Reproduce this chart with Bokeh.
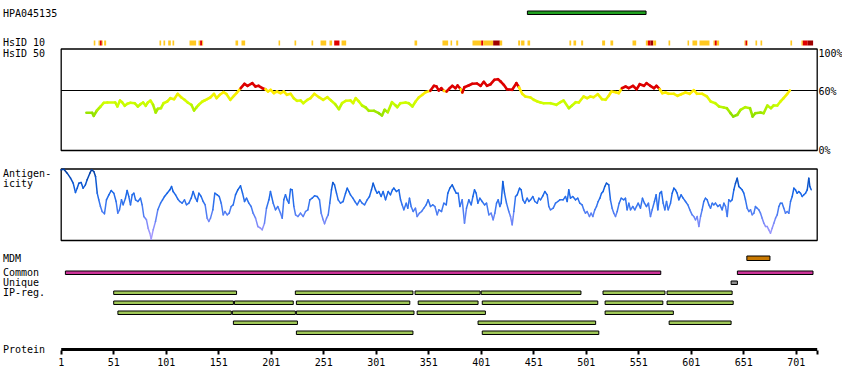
from bokeh.plotting import figure
from bokeh.models import Range1d, FixedTicker, Label
from bokeh.embed import file_html
from bokeh.resources import INLINE

# ---------------- data ----------------
protein_length = 721
tick_positions = [1, 51, 101, 151, 201, 251, 301, 351, 401, 451, 501, 551, 601, 651, 701, 721]
tick_labels = ["1", "51", "101", "151", "201", "251", "301", "351", "401", "451", "501",
               "551", "601", "651", "701", ""]

hpa_start, hpa_end = [445], [558]
mdm_start, mdm_end = [654], [676]
common_start, common_end = [5, 645], [572, 717]
unique_start, unique_end = [639], [645]

ip_row1_start = [51, 224, 338, 401, 517, 578]
ip_row1_end = [168, 336, 400, 496, 576, 640]
ip_row2_start = [51, 166, 225, 341, 402, 519, 578]
ip_row2_end = [165, 222, 333, 398, 512, 574, 641]
ip_row3_start = [55, 164, 225, 340, 519]
ip_row3_end = [163, 224, 337, 405, 584]
ip_row4_start = [165, 398, 580]
ip_row4_end = [226, 510, 639]
ip_row5_start = [225, 402]
ip_row5_end = [336, 513]

hsid10_start = [32, 36.5, 37.8, 39.7, 41.9, 94.6, 98.4, 102.9, 107, 123.2, 131.8, 133.3, 135.3,
                167, 172.7, 208, 223.2, 239.4, 248, 256.5, 261, 268, 337.5, 364.1, 371.8, 377.2,
                392.7, 401, 402.9, 412.4, 418.7, 436.2, 439, 445.1, 485, 488.9, 496.2, 516.2,
                524.1, 545.1, 557.8, 559.7, 562.2, 564.8, 579.4, 597.5, 602.2, 608.9, 622.2,
                623.5, 625.4, 651.7, 652.7, 654.3, 662.2, 667, 695.5, 706, 707.3, 712]
hsid10_end = [33.5, 37.8, 39.7, 40.6, 43.8, 96.2, 100, 105.4, 108.6, 129.5, 133.3, 135.3, 136.2,
              169.5, 176.2, 209.5, 224.8, 241, 253.4, 259, 266, 272.4, 340, 369.5, 373.3, 379.1,
              401, 402.9, 412.4, 418.7, 421, 438.1, 442.2, 447.6, 486.7, 491.4, 498.1, 519,
              526.7, 548.6, 559.7, 562.2, 564.8, 567.6, 581, 599, 606.7, 618.4, 623.5,
              625.4, 627.6, 652.7, 654.3, 654.9, 663.8, 668.6, 697.1, 707.3, 712, 717.1]
hsid10_level = [1, 1, 2, 1, 1, 1, 1, 1, 1, 1, 1, 2, 1,
                1, 1, 1, 1, 1, 1, 1, 2, 1, 1, 1, 1, 1,
                1, 2, 1, 3, 1, 1, 1, 1, 1, 1, 1, 1,
                1, 1, 1, 2, 3, 1, 1, 1, 1, 1, 1,
                2, 1, 1, 2, 1, 1, 1, 1, 1, 2, 3]

hsid50_res = [25, 30.5, 32, 35, 38.5, 41.5, 45, 52.5, 54.5, 57, 59, 61.5, 64, 67, 71, 74, 76.5,
              79, 81.5, 83.5, 86, 88.5, 91, 93, 96, 98.5, 102, 105, 108.5, 112, 115.5, 118.5,
              121.5, 125, 127.5, 130, 132, 135.5, 137.5, 140, 143, 146.5, 149, 152, 155.5,
              158.5, 162, 165.5, 168.5, 172, 175.5, 178.5, 183, 186, 189, 192.5, 195.5, 198,
              200.5, 203.5, 206.5, 210, 213, 216, 219.5, 222.5, 225.5, 229, 231.5, 235.5, 238.5,
              242, 246.5, 250.5, 254.5, 258, 262, 265.5, 268.5, 272, 276.5, 279, 281.5, 284.5,
              287.5, 291, 294, 299, 303.5, 306.5, 309, 312, 316, 319.5, 321, 324, 329, 332,
              335.5, 338.5, 341.5, 345, 348, 352.5, 356, 358.5, 360.5, 363, 365.5, 368, 371,
              373.5, 376.5, 378.5, 381.5, 383, 385, 389, 392.5, 397, 400.5, 403.5, 406.5, 410,
              413.5, 417, 419.5, 422.5, 425.5, 430.5, 434.5, 437, 440, 443, 448, 451, 454.5,
              457.5, 460.5, 467, 472.5,
              476.5, 479.5, 484.5, 487.5, 491, 494, 498.5, 502, 505, 508, 512, 516, 519.5,
              522.5, 525, 529, 532, 535, 538.5, 541.5, 545.5, 549, 552, 556, 558.5, 562, 565.5,
              568, 571, 573.5, 576.5, 579.5, 584.5, 588, 591.5, 595.5, 599.5, 603.5, 606.5,
              611.5, 616, 619.5, 624, 627.5, 632, 635, 638.5, 641, 645, 648, 652.5, 657, 659.5,
              662, 667, 670, 673.5, 677, 679.5, 683, 686, 689, 692.5, 695]
hsid50_pct = [37.7, 37.7, 34.7, 40, 44, 47.7, 48, 48, 44, 50, 48.3, 44.7, 46.7, 47.7, 47.3, 44, 46.3,
              48, 44.7, 48, 50, 45.7, 38, 41.7, 42.3, 47.3, 49, 52.3, 51.3, 56.7, 53, 50.7,
              48, 45.7, 40, 43.3, 45.7, 49, 50, 51.3, 53, 56.7, 52.3, 55.7, 58.3,
              56.3, 50.7, 54.7, 58, 62.3, 66.7, 64.7, 67.3, 64, 64.7, 62.3, 61.3, 59,
              60.7, 57.3, 59, 57.3, 59, 55.7, 56.7, 52.3, 49.7, 50, 47.3, 50.7, 52.3,
              56.7, 53.3, 50.7, 53.3, 50, 46.3, 41.3, 47.3, 49.7, 50, 47.3, 52.3, 49,
              45, 43, 39.7, 39.7, 37.3, 35, 40.7, 38.3, 48.3, 45, 43.3, 47.3, 48, 47.3,
              44, 49, 53, 55.7, 58.3, 59.7, 64.7, 64, 60, 62.3, 59.7, 59, 62.3,
              64.7, 62.3, 65, 61.3, 58, 63.3, 65, 66.7, 67, 64.7, 68.7, 64.7, 66.3,
              70.7, 71.3, 69, 65.7, 61.3, 60.7, 67.3, 63.3, 56.7, 54, 53, 50.7, 49,
              48, 47.3, 47.3, 45.7,
              48.3, 50, 42.3, 45, 48.3, 48, 54, 52.3, 54, 53.3, 56.3, 51.3, 50.7,
              54.7, 59, 58.3, 57.3, 62.3, 64, 62.3, 64.7, 61.3, 66.3, 64.7, 67.3, 64.7, 62.3,
              64.7, 61.3, 57.3, 58, 56.7, 56.7, 54.7, 56.3, 58, 56.7, 60.3, 56.7,
              56.7, 54, 49, 47.3, 44, 43, 42.3, 37.3, 34, 35.7, 40.7, 43.3, 42.3, 34,
              37.3, 38, 37.3, 45, 42.3, 45, 45, 49, 52.3, 56.7, 60]

antigen_res = [1, 3.5, 6.7, 9.9, 12.4, 14.6, 16.2, 17.8, 20, 21.9, 24.1, 25.7, 28.3, 29.9, 32.1,
               33.7, 35.3, 36.8, 38.4, 40, 42.2, 44.1, 46.4, 48.6, 51.1, 53.3, 54.9, 56.5, 58.4,
               60, 62.2, 63.8, 65.4, 67, 68.6, 70.2, 71.8, 74, 76.5, 78.1, 79.7, 82.2, 83.8,
               85.4, 86.7, 88.6, 90.8, 93, 95.6, 97.5, 99.4, 101.9, 104.5, 106.1, 107.6, 109.9,
               112.1, 114, 116.2, 118.4, 120.3, 122.6, 124.8, 126.7, 128.9, 130.5, 132.1, 134.3,
               136.2, 138.1, 140, 141.6, 143.2, 145.4, 147.3, 149.6, 151.5, 153.4, 155.3, 156.9,
               159.1, 161, 162.9, 164.8, 167, 169.2, 171.8, 173.7, 175.6, 177.5, 179.7, 181.9,
               183.8, 186.1, 188.3, 190.8, 192.4, 194.6, 196.5, 198.8, 200.3, 202.9, 205.1,
               207.3, 209.9, 211.5, 213, 214.6, 216.2, 217.8, 219.4, 221, 222.6, 224.2, 226.4,
               228.9, 231.5, 233.7, 235.9, 237.8, 240, 242.3,
               244.8, 247, 248.6, 250.5, 251.8, 253.7, 255.3, 256.8, 258.4, 259.7, 261.3, 263.2,
               264.8, 267, 269.5, 271.8, 273.4, 275, 276.5, 278.8, 280.7, 282.9, 285.4, 287.6,
               289.9, 292.4, 294.6, 296.5, 298.1, 300.3, 301.9, 303.5, 305.7, 307.6, 309.9,
               312.4, 314.6, 316.5, 317.8, 320.3, 322.6, 324.2, 325.7, 327.3, 329.6, 331.1,
               332.7, 334.3, 336.2, 338.4, 340, 342.2, 344.2, 346.4, 348.6, 350.5, 352.7, 354.9,
               356.9, 359.1, 360.7, 363.2, 365.4, 367.7, 369.2, 371.1, 373.4, 375.6, 377.2,
               379.1, 380.7, 382.9, 385.1, 387, 389.2, 391.5, 393.1, 394.6, 396.2, 397.8, 399.7,
               401.9, 404.2, 406.1, 408.3, 410.5, 412.4, 414, 415.6, 417.2, 418.8, 420, 421.6,
               423.2, 425.1, 427.3, 428.9, 430.5, 432.1, 433.7, 435.3, 437.5, 439.1, 440.7,
               442.6, 444.8, 446.4, 448, 450.2, 452.1, 454.3, 455.9, 457.5, 459.7, 461.6, 463.9,
               465.4, 467, 469.6, 471.8, 474, 475.9,
               479, 481.3, 482.9, 484.4, 486, 488.2, 490.8, 493, 494.9, 497.1, 498.7, 500.3,
               501.9, 504.1, 505.7, 507.3, 509.2, 510.8, 512.4, 514, 515.6, 517.1, 518.7, 520.3,
               522.5, 524.1, 525.7, 527.3, 528.9, 530.5, 532.4, 534.3, 536.8, 538.4, 540, 541.6,
               543.2, 545.4, 547.3, 548.9, 550.5, 552.7, 554.6, 556.5, 558.4, 560.3, 562.2,
               563.8, 566, 567.6, 569.2, 571.1, 572.7, 574.3, 575.9, 577.5, 579.1, 581.3, 582.9,
               584.5, 586, 587.6, 589.2, 591.4, 593.3, 595.6, 597.8, 599.7, 601.9, 603.5, 605.1,
               606.7, 608.3, 609.9, 611.4, 613, 614.6, 616.2, 617.8, 619.4, 621, 622.6, 624.1,
               626.4, 628.3, 630.5, 632.1, 633.7, 635.3, 636.8, 638.4, 640, 641.6, 643.2, 644.8,
               646.4, 648, 649.5, 651.1, 652.7, 654.3, 655.9, 657.5, 659.1, 660.7, 662.2, 663.8,
               665.4, 667, 668.6, 670.2, 671.8, 673.4, 674.9, 676.5, 678.1, 679.7, 681.3, 682.9,
               684.5, 686, 687.6, 689.2, 690.8, 692.4, 694, 695.6, 697.2, 698.8, 700.3, 701.9,
               703.5, 705.1, 706.7, 708.3, 709.9, 711.5, 713, 714, 715.3]
antigen_score = [21.2, 21.4, 20.2, 18.7, 17.2, 14.4, 15.7, 17.2, 17.4, 15.7, 16.7, 18.2, 20.2, 21.2,
                 20.7, 19.2, 14.2, 12.2, 10.2, 8.7, 8.0, 12.2, 13.7, 15.0, 14.2, 11.7, 8.2, 9.2,
                 12.2, 10.7, 12.7, 15.0, 13.2, 10.7, 13.7, 14.2, 12.2, 11.7, 12.7, 10.7, 7.2, 6.2,
                 3.7, 2.2, 0.4, 3.2, 5.7, 9.2, 11.2, 12.2, 13.2, 14.2, 15.2, 16.2, 14.7, 13.7,
                 12.4, 11.7, 11.2, 12.2, 10.7, 11.2, 12.7, 14.7, 12.7, 11.7, 14.2, 13.2,
                 11.7, 10.7, 6.7, 5.7, 6.7, 9.2, 14.2, 13.7, 13.2, 11.2, 7.7, 8.7,
                 7.7, 8.2, 10.2, 10.7, 13.7, 15.2, 16.4, 14.2, 11.7, 12.7, 11.2, 10.2,
                 8.2, 6.7, 4.2, 3.7, 3.2, 5.2, 9.7, 12.2, 14.7, 11.2, 9.2,
                 10.2, 8.2, 6.7, 12.2, 13.7, 12.2, 11.2, 15.4, 15.2, 10.2, 7.7, 7.2,
                 8.2, 7.2, 8.7, 9.2, 12.2, 12.7, 13.4,
                 13.2, 12.2, 8.2, 6.2, 5.0, 6.7, 7.7, 11.2, 15.2, 17.4, 16.7, 14.2,
                 12.2, 11.2, 11.7, 14.2, 15.7, 14.7, 13.7, 12.7, 11.7, 10.7, 12.2, 11.2,
                 10.7, 12.2, 13.2, 15.2, 17.2, 15.2, 14.2, 14.7, 13.2, 14.7, 12.2,
                 14.7, 13.7, 15.2, 15.7, 14.7, 15.2, 12.2, 10.7, 9.2, 11.2, 9.7,
                 12.7, 10.2, 8.7, 9.7, 7.2, 8.2, 8.7, 9.7, 10.7, 12.2, 10.2, 10.7,
                 10.2, 7.7, 9.2, 8.7, 11.2, 10.7, 14.2, 15.7, 16.7, 15.2, 14.2,
                 14.2, 10.2, 12.2, 5.2, 9.7, 12.2, 10.7, 13.2, 15.2, 14.2, 11.2, 12.7,
                 11.7, 10.7, 11.2, 7.7, 8.2, 6.2, 8.2, 11.2, 12.2, 10.2, 11.2, 17.7,
                 14.2, 11.2, 8.7, 7.2, 4.7, 8.7, 13.2, 13.7, 15.7, 15.2, 12.2,
                 11.2, 12.7, 11.7, 12.2, 13.2, 11.7, 11.2, 12.7, 12.2, 13.4, 14.7, 13.7,
                 10.2, 9.2, 9.7, 11.2, 11.7, 12.2,
                 12.2, 13.2, 11.7, 15.2, 12.7, 13.2, 12.2, 12.7, 11.2, 10.7, 9.2, 8.2,
                 8.7, 7.2, 8.2, 7.2, 9.2, 10.2, 11.7, 12.7, 14.2, 14.7, 16.2, 17.2,
                 16.7, 12.2, 9.7, 8.2, 7.2, 8.7, 11.2, 12.7, 12.2, 12.7, 9.2, 11.2,
                 9.2, 10.2, 9.2, 10.2, 11.2, 9.7, 12.7, 11.2, 10.2, 11.2, 7.2,
                 9.2, 11.7, 13.7, 9.2, 14.2, 14.7, 11.2, 9.2, 11.7, 9.2, 11.2, 14.2,
                 15.7, 15.2, 14.2, 12.2, 13.7, 12.7, 11.7, 10.7, 9.2, 7.7, 7.2, 6.2,
                 7.2, 4.2, 7.2, 9.2, 11.7, 12.7, 12.2, 10.7, 9.7, 11.2, 10.7, 11.2,
                 10.2, 10.7, 9.2, 11.2, 10.2, 7.2, 12.2, 11.7, 12.2, 15.2, 17.2, 18.7,
                 16.2, 15.7, 15.2, 14.2, 12.2, 9.7, 8.7, 9.2, 7.7, 8.2, 10.2, 9.7,
                 9.2, 8.2, 6.7, 5.2, 4.2, 4.2, 3.2, 2.2, 3.7, 5.2, 6.7, 7.7,
                 10.2, 11.2, 11.2, 9.7, 8.2, 8.7, 8.2, 11.7, 13.2, 15.7, 15.2, 14.2,
                 14.7, 14.2, 13.2, 13.7, 14.2, 15.2, 18.7, 16.2, 15.2]

# ---------------- layout helpers (picture pixels) ----------------
W, H = 842, 374
RES1_PX = 60.7          # picture x of residue 1
PX_PER_RES = 1.05
AXIS_Y = 349            # picture y of the thick protein line
FRAME_BOTTOM = 354      # picture y of the bottom of the plotting frame (tick ends)


def res_at(px):
    return 1 + (px - RES1_PX) / PX_PER_RES


p = figure(width=W, height=H, output_backend="svg", toolbar_location=None,
           x_range=Range1d(res_at(0), res_at(W)), y_range=Range1d(FRAME_BOTTOM, 0),
           min_border_left=0, min_border_right=0, min_border_top=0,
           min_border_bottom=H - FRAME_BOTTOM,
           y_axis_location=None, x_axis_location="below")
p.outline_line_color = None
p.grid.visible = False
p.background_fill_color = "white"
p.border_fill_color = "white"

# HsID 50 panel: 0% at y=150, 1px per percent; antigenicity panel: bottom at y=240, 0.3 units/px
p.extra_y_ranges = {
    "pct": Range1d(150 - FRAME_BOTTOM, 150),
    "ant": Range1d((240 - FRAME_BOTTOM) * 0.3, 240 * 0.3),
}

FONT = "DejaVu Sans Mono"

# protein axis: ticks and labels from the library axis, thick line along the sequence
ax = p.xaxis[0]
ax.ticker = FixedTicker(ticks=tick_positions)
ax.major_label_overrides = {t: l for t, l in zip(tick_positions, tick_labels)}
ax.bounds = (1, protein_length)
ax.axis_line_color = None
ax.major_tick_line_width = 2
ax.major_tick_line_color = "black"
ax.major_tick_in = 4
ax.major_tick_out = 0
ax.minor_tick_line_color = None
ax.major_label_text_font = FONT
ax.major_label_text_font_size = "10px"
ax.major_label_text_color = "black"
ax.major_label_standoff = 3
p.segment(x0=[1], x1=[protein_length], y0=[AXIS_Y], y1=[AXIS_Y], line_color="black",
          line_width=3)

# --- antibody (HPA) bar
p.quad(left=hpa_start, right=hpa_end, top=10.5, bottom=14, fill_color="#1fa01f",
       line_color="black", line_width=1)

# --- HsID 10 marks
lvl_col = {1: "#ffc820", 2: "#e00000", 3: "#a00000"}
p.quad(left=hsid10_start, right=hsid10_end, top=40, bottom=45,
       fill_color=[lvl_col[l] for l in hsid10_level], line_color=None)

# --- panel frames
p.quad(left=1, right=protein_length, top=48.5, bottom=150, fill_color=None,
       line_color="black", line_width=1.3)
p.quad(left=1, right=protein_length, top=168.5, bottom=240, fill_color=None,
       line_color="black", line_width=1.3)
p.segment(x0=[1], x1=[protein_length], y0=[60], y1=[60], y_range_name="pct",
          line_color="black", line_width=1.2)


def interp(stops, v):
    if v <= stops[0][0]:
        return stops[0][1]
    for (v0, c0), (v1, c1) in zip(stops[:-1], stops[1:]):
        if v <= v1:
            t = (v - v0) / (v1 - v0)
            return tuple(int(round(a + (b - a) * t)) for a, b in zip(c0, c1))
    return stops[-1][1]


def hexc(c):
    return "#%02x%02x%02x" % c


stops50 = [(35, (140, 222, 0)), (47, (204, 255, 0)), (58, (255, 236, 0))]


def col50(v):
    if v > 60.5:
        return "#dd0000"
    return hexc(interp(stops50, v))


m50 = [(a + b) / 2 for a, b in zip(hsid50_pct[:-1], hsid50_pct[1:])]
p.segment(x0=hsid50_res[:-1], x1=hsid50_res[1:], y0=hsid50_pct[:-1], y1=hsid50_pct[1:],
          y_range_name="pct", line_color=[col50(v) for v in m50], line_width=2.6,
          line_cap="round")

stops_ant = [(0, (180, 160, 255)), (5, (130, 140, 250)), (10, (60, 120, 240)),
             (15, (20, 100, 230)), (21, (0, 60, 160))]
mant = [(a + b) / 2 for a, b in zip(antigen_score[:-1], antigen_score[1:])]
p.segment(x0=antigen_res[:-1], x1=antigen_res[1:], y0=antigen_score[:-1], y1=antigen_score[1:],
          y_range_name="ant", line_color=[hexc(interp(stops_ant, v)) for v in mant],
          line_width=1.5, line_cap="round")

# --- feature bars
p.quad(left=mdm_start, right=mdm_end, top=255.5, bottom=260, fill_color="#c87800",
       line_color="black", line_width=1)
p.quad(left=common_start, right=common_end, top=270.5, bottom=274, fill_color="#cc3399",
       line_color="black", line_width=1)
p.quad(left=unique_start, right=unique_end, top=280.5, bottom=284, fill_color="#909090",
       line_color="black", line_width=1)
rows = [(ip_row1_start, ip_row1_end), (ip_row2_start, ip_row2_end), (ip_row3_start, ip_row3_end),
        (ip_row4_start, ip_row4_end), (ip_row5_start, ip_row5_end)]
for i, (s, e) in enumerate(rows):
    top = 290.5 + 10 * i
    p.quad(left=s, right=e, top=top, bottom=top + 3.5, fill_color="#a0c858",
           line_color="black", line_width=1)

# --- texts
left_x = res_at(2.5)
texts = [("HPA045135", 13), ("HsID 10", 42), ("HsID 50", 52.5), ("Antigen-", 172.5),
         ("icity", 182.5), ("MDM", 257.5), ("Common", 271.5), ("Unique", 281.5),
         ("IP-reg.", 291.5), ("Protein", 348.5)]
for t, y in texts:
    p.add_layout(Label(x=left_x, y=y, text=t, text_font=FONT, text_font_size="10px",
                       text_baseline="alphabetic", text_color="black"))

right_x = res_at(818)
for t, y in [("100%", 52.5), ("60%", 90.5), ("0%", 149.5)]:
    p.add_layout(Label(x=right_x, y=y, text=t, text_font=FONT, text_font_size="10px",
                       text_baseline="alphabetic", text_color="black"))

open("out.html", "w").write(file_html(p, INLINE))
